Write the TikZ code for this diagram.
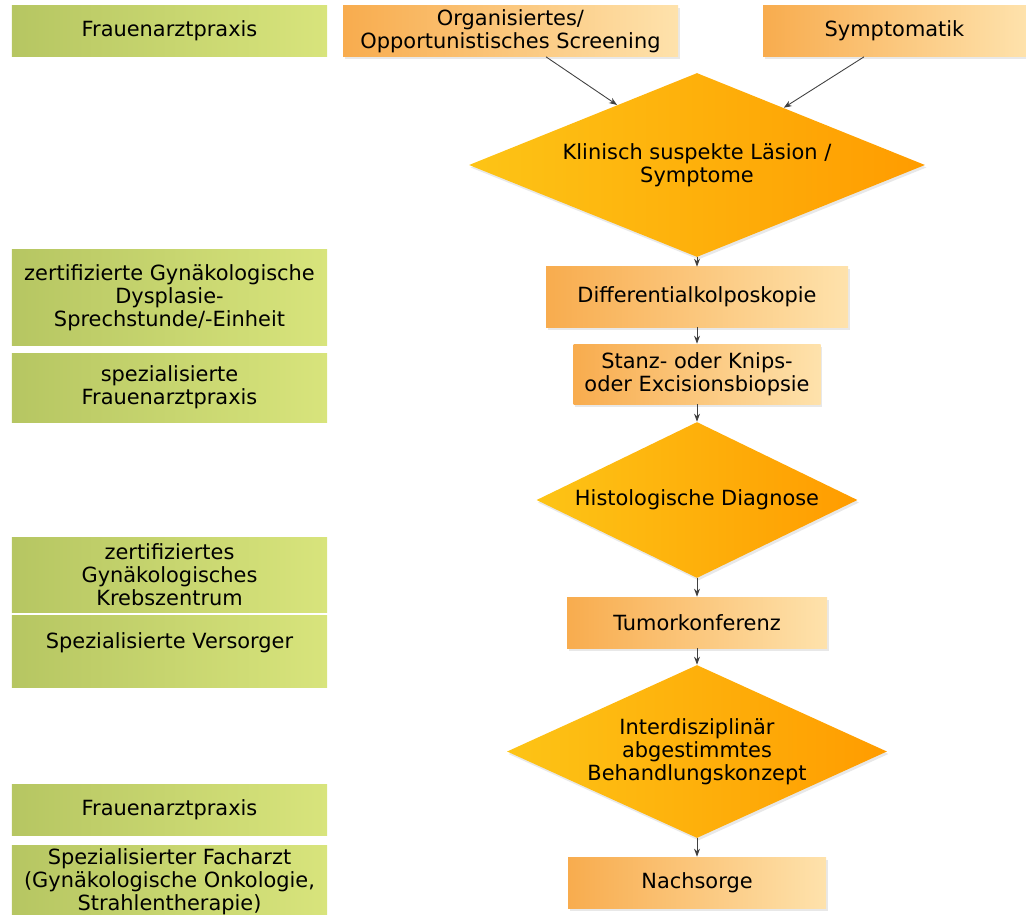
\documentclass[tikz,border=0pt]{standalone}
\usepackage{fontspec}
\setmainfont{DejaVu Sans}
\usetikzlibrary{shapes.geometric,arrows.meta,calc,shadows}

\definecolor{greenL}{RGB}{182,198,98}
\definecolor{greenR}{RGB}{216,228,124}
\definecolor{orangeL}{RGB}{248,172,78}
\definecolor{orangeR}{RGB}{254,226,172}
\definecolor{decL}{RGB}{253,196,22}
\definecolor{decR}{RGB}{255,156,0}

\tikzset{
  txt/.style={font=\fontsize{11.9}{13.1}\selectfont, align=center, inner sep=0pt},
  soft/.style={drop shadow={opacity=0.18, shadow xshift=0.3mm, shadow yshift=-0.5mm}},
  place/.style={txt, rectangle, left color=greenL, right color=greenR, minimum width=63mm},
  task/.style={txt, soft, rectangle, left color=orangeL, right color=orangeR},
  decision/.style={txt, soft, diamond, left color=decL, right color=decR},
  flow/.style={-{Stealth[length=1.6mm,width=1.2mm]}, line width=0.5pt, black!75}
}

\begin{document}
\begin{tikzpicture}[x=0.2mm,y=-0.2mm]
\useasboundingbox (0,0) rectangle (1026,915);

% Versorgungsebene (links)
\node[place, minimum height=10.2mm] (praxis) at (169.5,31) {Frauenarztpraxis};
\node[place, minimum height=19mm] (dysplasie) at (169.5,297.5) {zertifizierte Gynäkologische\\Dysplasie-\\Sprechstunde/-Einheit};
\node[place, minimum height=13.8mm] (spezpraxis) at (169.5,387.5) {spezialisierte\\Frauenarztpraxis};
\node[place, minimum height=15mm] (zentrum) at (169.5,574.5) {zertifiziertes\\Gynäkologisches\\Krebszentrum};
\node[place, minimum height=14.4mm, text depth=4.2mm] (versorger) at (169.5,651) {Spezialisierte Versorger};
\node[place, minimum height=10.2mm] (nachpraxis) at (169.5,809.5) {Frauenarztpraxis};
\node[place, minimum height=14.8mm] (facharzt) at (169.5,882) {Spezialisierter Facharzt\\(Gynäkologische Onkologie,\\Strahlentherapie)};

% Einstieg
\node[task, minimum width=67mm, minimum height=10.2mm] (screening) at (510.5,31) {Organisiertes/\\Opportunistisches Screening};
\node[task, minimum width=52.6mm, minimum height=10.2mm] (symptomatik) at (894.5,31) {Symptomatik};

% Ablauf (Mitte)
\node[decision, aspect=2.48, minimum width=91.2mm, minimum height=36.8mm] (laesion) at (697,165) {Klinisch suspekte Läsion /\\Symptome};
\node[task, minimum width=60.4mm, minimum height=12mm] (kolpo) at (697,297) {Differentialkolposkopie};
\node[task, minimum width=49.4mm, minimum height=12mm] (biopsie) at (697,374) {Stanz- oder Knips-\\oder Excisionsbiopsie};
\node[decision, aspect=2.06, minimum width=64.2mm, minimum height=31.2mm] (histo) at (697,500) {Histologische Diagnose};
\node[task, minimum width=52mm, minimum height=10.2mm] (konferenz) at (697,622.5) {Tumorkonferenz};
\node[decision, aspect=2.2, minimum width=76mm, minimum height=34.6mm] (konzept) at (697,751.5) {Interdisziplinär\\abgestimmtes\\Behandlungskonzept};
\node[task, minimum width=51.6mm, minimum height=10.2mm] (nachsorge) at (697,882.5) {Nachsorge};

% Pfeile
\draw[flow] ([xshift=7.1mm]screening.south) -- ($(laesion.north)!0.35!(laesion.west)$);
\draw[flow] ([xshift=-6.1mm]symptomatik.south) -- ($(laesion.north)!0.38!(laesion.east)$);
\draw[flow] (laesion.south) -- (kolpo.north);
\draw[flow] (kolpo.south) -- (biopsie.north);
\draw[flow] (biopsie.south) -- (histo.north);
\draw[flow] (histo.south) -- (konferenz.north);
\draw[flow] (konferenz.south) -- (konzept.north);
\draw[flow] (konzept.south) -- (nachsorge.north);
\end{tikzpicture}
\end{document}
